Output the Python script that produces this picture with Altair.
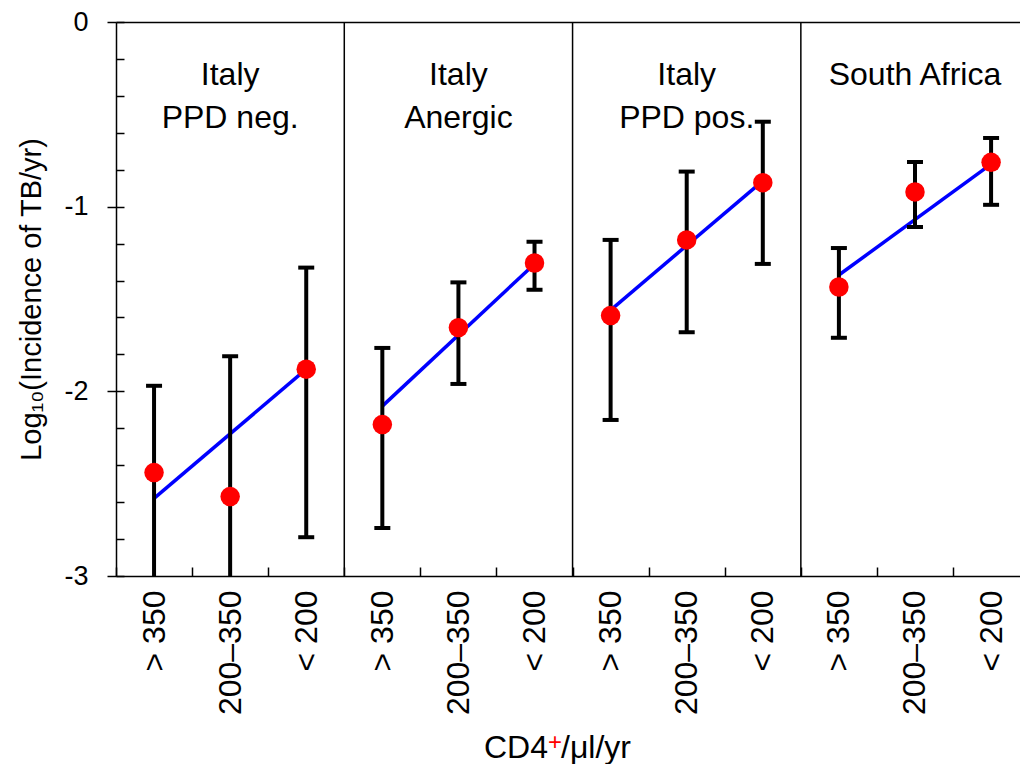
import json
import altair as alt
import numpy as np
import pandas as pd

# ---------------- data ----------------
categories = ["> 350", "200–350", "< 200"]
panel_labels = ["Italy\nPPD neg.", "Italy\nAnergic", "Italy\nPPD pos.", "South Africa"]

incidence = [
    [-2.44, -2.57, -1.88],
    [-2.18, -1.655, -1.305],
    [-1.59, -1.18, -0.87],
    [-1.435, -0.92, -0.76],
]
ci_low = [
    [-3.40, -3.50, -2.79],
    [-2.74, -1.96, -1.45],
    [-2.155, -1.68, -1.31],
    [-1.71, -1.11, -0.99],
]
ci_high = [
    [-1.97, -1.81, -1.33],
    [-1.765, -1.41, -1.19],
    [-1.18, -0.81, -0.54],
    [-1.224, -0.758, -0.628],
]
fit_start = [-2.58, -2.08, -1.56, -1.37]
fit_end = [-1.88, -1.31, -0.86, -0.77]

# ---------------- tables ----------------
n_cat = len(categories)
rows = []
for p, lab in enumerate(panel_labels):
    for c, cat in enumerate(categories):
        rows.append({
            "panel": lab, "cat": cat, "x": p * n_cat + c + 0.5,
            "y": incidence[p][c], "lo": ci_low[p][c], "hi": ci_high[p][c],
        })
df = pd.DataFrame(rows)

fit_rows = []
for p, lab in enumerate(panel_labels):
    fit_rows.append({"panel": lab, "x": p * n_cat + 0.5, "y": fit_start[p]})
    fit_rows.append({"panel": lab, "x": p * n_cat + n_cat - 0.5, "y": fit_end[p]})
fit_df = pd.DataFrame(fit_rows)

sep_df = pd.DataFrame({"b": [n_cat * (p + 1) for p in range(len(panel_labels) - 1)]})
lab_df = pd.DataFrame({"panel": panel_labels,
                       "x": [p * n_cat + n_cat / 2 for p in range(len(panel_labels))]})

FONT = "Liberation Sans"
W, H = 904, 554
n_total = n_cat * len(panel_labels)
xs = alt.Scale(domain=[0, 11.88], nice=False, zero=False)
ys = alt.Scale(domain=[-3, 0], nice=False, zero=False)

centers = [i + 0.5 for i in range(n_total)]
label_expr = json.dumps(categories, ensure_ascii=False) + "[floor(datum.value) % " + str(n_cat) + "]"

x_label_axis = alt.Axis(orient="bottom", values=centers, labelExpr=label_expr, labelAngle=270,
                        labelFontSize=32, labelPadding=14, tickSize=0, ticks=False,
                        domain=True, domainColor="black", domainWidth=1.5, title=None,
                        grid=False, labelOverlap=False, labelFlush=False,
                        labelColor="black", labelFont=FONT)
y_main_axis = alt.Axis(orient="left", values=[-3, -2, -1, 0], labelExpr="'' + datum.value",
                       tickSize=9, tickWidth=1.5, tickColor="black", domain=True,
                       domainWidth=1.5, domainColor="black", labelFontSize=27,
                       labelPadding=19, labelColor="black", labelFont=FONT,
                       title="Log₁₀(Incidence of TB/yr)", titleFontSize=29,
                       titleFontWeight="normal", titlePadding=17, titleColor="black",
                       titleFont=FONT, grid=False)
x_tick_axis = alt.Axis(orient="bottom", offset=-9, values=list(range(n_total)), tickSize=9,
                       tickWidth=1.5, tickColor="black", labels=False, domain=False,
                       title=None, grid=False)
y_minor = [round(v, 1) for v in np.arange(-3, 0.01, 0.2)]
y_tick_axis = alt.Axis(orient="left", offset=-8, values=y_minor, tickSize=8, tickWidth=1.5,
                       tickColor="black", labels=False, domain=False, title=None, grid=False)
x_top_axis = alt.Axis(orient="top", domain=True, domainWidth=1.5, domainColor="black",
                      ticks=False, labels=False, title=None, grid=False)

line = alt.Chart(fit_df).mark_line(color="#0000ff", strokeWidth=3.5, clip=True).encode(
    x=alt.X("x:Q", scale=xs, axis=x_label_axis),
    y=alt.Y("y:Q", scale=ys, axis=y_main_axis),
    detail="panel:N",
)

seps = alt.Chart(sep_df).mark_rule(color="black", strokeWidth=1.5).encode(
    x=alt.X("b:Q", scale=xs, axis=x_top_axis),
)

bars = alt.Chart(df).mark_rule(color="black", strokeWidth=4, clip=True).encode(
    x=alt.X("x:Q", scale=xs, axis=x_tick_axis),
    y=alt.Y("lo:Q", scale=ys, axis=y_tick_axis),
    y2="hi:Q",
)
cap_hi = alt.Chart(df).mark_tick(color="black", orient="horizontal", size=16, thickness=4,
                                 clip=True, opacity=1).encode(
    x=alt.X("x:Q", scale=xs, axis=None),
    y=alt.Y("hi:Q", scale=ys, axis=None),
)
cap_lo = alt.Chart(df).mark_tick(color="black", orient="horizontal", size=16, thickness=4,
                                 clip=True, opacity=1).encode(
    x=alt.X("x:Q", scale=xs, axis=None),
    y=alt.Y("lo:Q", scale=ys, axis=None),
)
pts = alt.Chart(df).mark_circle(color="#ff0000", size=380, opacity=1).encode(
    x=alt.X("x:Q", scale=xs, axis=None),
    y=alt.Y("y:Q", scale=ys, axis=None),
)
labels = alt.Chart(lab_df).mark_text(fontSize=32, font=FONT, lineBreak="\n", lineHeight=43,
                                     baseline="alphabetic", align="center",
                                     color="black").encode(
    x=alt.X("x:Q", scale=xs, axis=None),
    y=alt.value(63),
    text="panel:N",
)

# x-axis title with a red superscript "+"
t_df = pd.DataFrame({"k": [0]})
t1 = alt.Chart(t_df).mark_text(text="CD4", fontSize=32, font=FONT, align="right",
                               baseline="alphabetic", color="black").encode(
    x=alt.value(432), y=alt.value(736))
t2 = alt.Chart(t_df).mark_text(text="+", fontSize=24, font=FONT, align="left",
                               baseline="alphabetic", color="#ff0000").encode(
    x=alt.value(432), y=alt.value(728))
t3 = alt.Chart(t_df).mark_text(text="/μl/yr", fontSize=32, font=FONT, align="left",
                               baseline="alphabetic", color="black").encode(
    x=alt.value(445), y=alt.value(736))

chart = alt.layer(seps, line, bars, cap_hi, cap_lo, pts, labels, t1, t2, t3).resolve_axis(
    x="independent", y="independent"
).properties(
    width=W, height=H,
    padding={"left": 116, "top": 22, "right": 0, "bottom": 188},
    autosize=alt.AutoSizeParams(type="none"),
).configure_view(stroke=None).configure(font=FONT, background="white")

chart.save("out.html", embed_options={"renderer": "svg", "actions": False})
